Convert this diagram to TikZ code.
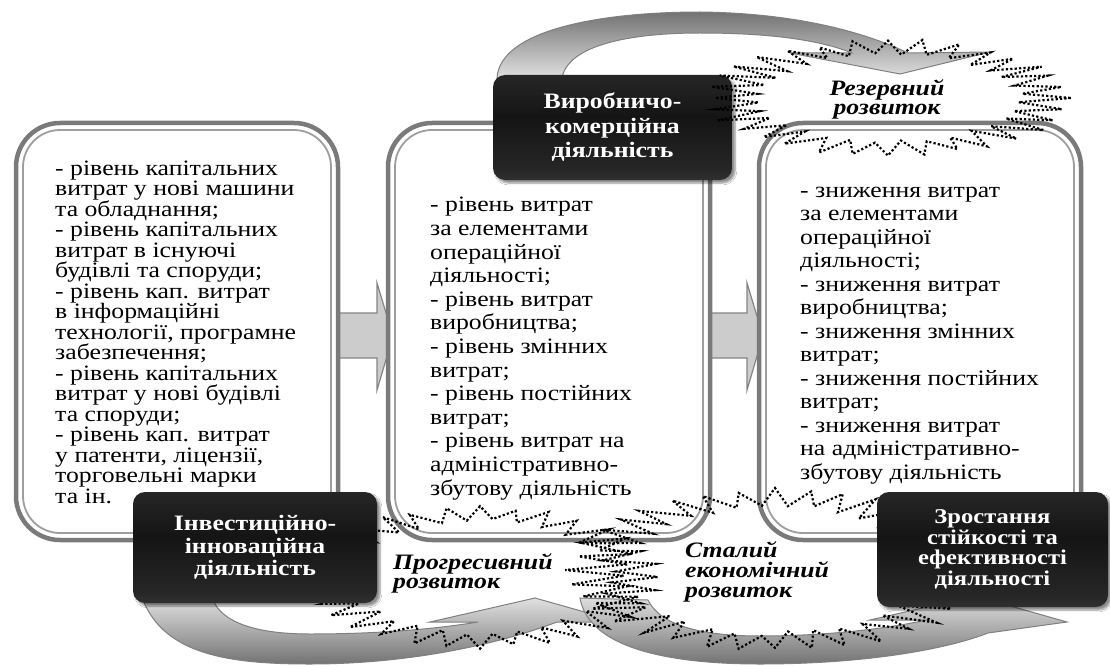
\documentclass[tikz,border=0pt]{standalone}
\usepackage{fontspec}
\setmainfont[FakeStretch=1.17]{Liberation Serif}
\usetikzlibrary{shadows.blur,calc}
\pgfdeclareverticalshading{darkbar}{100bp}{color(0bp)=(black!62); color(30bp)=(black!85); color(55bp)=(black!92); color(75bp)=(black!85); color(100bp)=(black!55)}
\begin{document}
\begin{tikzpicture}[x=1pt,y=-1pt,
 panel/.style={draw=black!52, line width=4.5pt, rounded corners=44pt, fill=white, minimum width=322pt, minimum height=417pt, inner sep=0pt, outer sep=0pt},
 panelin/.style={draw=black!38, line width=1.8pt, rounded corners=37pt},
 darkbox/.style={rounded corners=12pt, shading=darkbar, text=white, align=center, inner sep=0pt, outer sep=0pt, blur shadow={shadow xshift=3pt, shadow yshift=-3pt, shadow blur steps=6, shadow opacity=45}},
 bodytext/.style={anchor=base west, align=left, inner sep=0pt},
 lbl/.style={anchor=base west, align=left, inner sep=0pt, font=\fontsize{22}{19}\selectfont\bfseries\itshape},
 burst/.style={line width=2.2pt, dash pattern=on 2.2pt off 2.2pt, line join=miter},
 blockarrow/.style={fill=black!20, draw=black!48, line width=1.2pt, line join=miter},
 curvearrow/.style={draw=black!50, line width=1pt, line join=miter},
]
\useasboundingbox (0,0) rectangle (1110,666);
\fill[white] (0,0) rectangle (1110,666);

% curved arrows
\shade[curvearrow, top color=black!55, bottom color=black!12]
 (497,78) .. controls (500,30) and (600,12) .. (700,12)
 .. controls (790,13) and (860,30) .. (908,53) -- (990,52) -- (900,74) -- (790,53) -- (852,53)
 .. controls (820,40) and (770,33) .. (700,33) .. controls (630,33) and (568,45) .. (562,78) -- cycle;
\shade[curvearrow, top color=black!12, bottom color=black!55]
 (143,600) .. controls (165,655) and (230,664) .. (310,664)
 .. controls (420,664) and (510,640) .. (557,622) -- (620,622) -- (535,598) -- (430,622) -- (478,622)
 .. controls (430,630) and (370,634) .. (310,634) .. controls (255,634) and (222,622) .. (213,600) -- cycle;
\shade[curvearrow, top color=black!12, bottom color=black!55]
 (580,598) .. controls (588,645) and (660,664) .. (760,664)
 .. controls (870,664) and (950,648) .. (988,633) -- (1067,622) -- (975,596) -- (870,620) -- (927,620)
 .. controls (880,630) and (820,636) .. (760,636) .. controls (700,636) and (660,625) .. (648,600) -- cycle;

% block arrows
\draw[blockarrow] (337,313) -- (377,313) -- (377,283) -- (393,336) -- (377,390) -- (377,358) -- (337,358) -- cycle;
\draw[blockarrow] (708,313) -- (747,313) -- (747,283) -- (763,336) -- (747,390) -- (747,358) -- (708,358) -- cycle;

% panels
\node[panel] (L) at (177,331.5) {};
\node[panel] (M) at (549,331.5) {};
\node[panel] (R) at (920,331.5) {};
\foreach \p in {L,M,R}
  \draw[panelin] ([shift={(7,7)}]\p.north west) rectangle ([shift={(-7,-7)}]\p.south east);

\node[bodytext, font=\fontsize{22}{20.5}\selectfont] (Lt) at (55,503) {- рівень капітальних\\витрат у нові машини\\та обладнання;\\- рівень капітальних\\витрат в існуючі\\будівлі та споруди;\\- рівень кап. витрат\\в інформаційні\\технології, програмне\\забезпечення;\\- рівень капітальних\\витрат у нові будівлі\\та споруди;\\- рівень кап. витрат\\у патенти, ліцензії,\\торговельні марки\\та ін.};
\node[bodytext, font=\fontsize{22}{23.6}\selectfont] (Mt) at (430,495) {- рівень витрат\\за елементами\\операційної\\діяльності;\\- рівень витрат\\виробництва;\\- рівень змінних\\витрат;\\- рівень постійних\\витрат;\\- рівень витрат на\\адміністративно-\\збутову діяльність};
\node[bodytext, font=\fontsize{22}{23.5}\selectfont] (Rt) at (800,479) {- зниження витрат\\за елементами\\операційної\\діяльності;\\- зниження витрат\\виробництва;\\- зниження змінних\\витрат;\\- зниження постійних\\витрат;\\- зниження витрат\\на адміністративно-\\збутову діяльність};

% production box
\node[darkbox, minimum width=239pt, minimum height=105pt, font=\fontsize{22}{24.5}\selectfont\bfseries] (prod) at (612.5,127.5) {Виробничо-\\комерційна\\діяльність};

% bursts
\pgfmathsetseed{11}
\begin{scope}[shift={(888,98)}]
\draw[burst] plot[samples at={0,...,63}, variable=\t] ({ifthenelse(mod(\t,2)==0,180,130)*(1+0.04*rand)*cos(\t*5.625)}, {ifthenelse(mod(\t,2)==0,57,44)*(1+0.04*rand)*sin(\t*5.625)}) -- cycle;
\end{scope}
\begin{scope}[shift={(480,577)}]
\draw[burst] plot[samples at={0,...,63}, variable=\t] ({ifthenelse(mod(\t,2)==0,178,132)*(1+0.04*rand)*cos(\t*5.625)}, {ifthenelse(mod(\t,2)==0,70,56)*(1+0.04*rand)*sin(\t*5.625)}) -- cycle;
\end{scope}
\begin{scope}[shift={(775,570)}]
\draw[burst] plot[samples at={0,...,71}, variable=\t] ({ifthenelse(mod(\t,2)==0,205,152)*(1+0.04*rand)*cos(\t*5)}, {ifthenelse(mod(\t,2)==0,80,64)*(1+0.04*rand)*sin(\t*5)}) -- cycle;
\end{scope}

% other dark boxes
\node[darkbox, minimum width=244pt, minimum height=111pt, font=\fontsize{22}{22.5}\selectfont\bfseries] (inv) at (255,547.5) {Інвестиційно-\\інноваційна\\діяльність};
\node[darkbox, minimum width=231pt, minimum height=115pt, font=\fontsize{21}{20.5}\selectfont\bfseries] (grow) at (992.5,549.5) {Зростання\\стійкості та\\ефективності\\діяльності};

% labels
\node[lbl, anchor=base, align=center] (res) at (887,115) {Резервний\\розвиток};
\node[lbl] (prog) at (393,588) {Прогресивний\\розвиток};
\node[lbl, font=\fontsize{22}{20}\selectfont\bfseries\itshape] (stal) at (685,597) {Сталий\\економічний\\розвиток};
\end{tikzpicture}
\end{document}
